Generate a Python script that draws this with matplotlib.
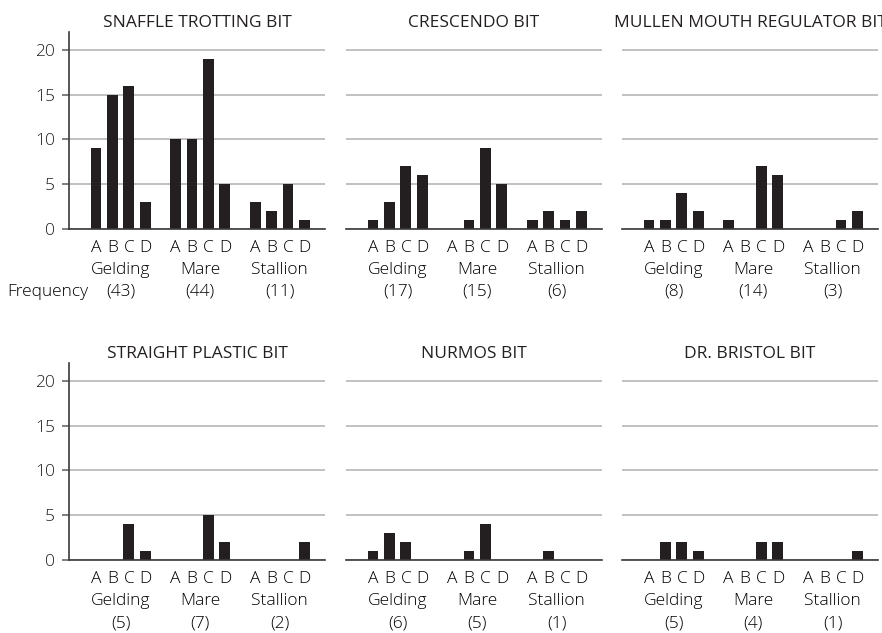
import numpy as np
import matplotlib.pyplot as plt

# bits in reading order, three per row
bits = ['SNAFFLE TROTTING BIT', 'CRESCENDO BIT', 'MULLEN MOUTH REGULATOR BIT',
        'STRAIGHT PLASTIC BIT', 'NURMOS BIT', 'DR. BRISTOL BIT']
groups = ['Gelding', 'Mare', 'Stallion']
letters = ['A', 'B', 'C', 'D']

# counts per bit: gelding, mare, stallion -> A, B, C, D
snaffle = [[9, 15, 16, 3], [10, 10, 19, 5], [3, 2, 5, 1]]
crescendo = [[1, 3, 7, 6], [0, 1, 9, 5], [1, 2, 1, 2]]
mullen = [[1, 1, 4, 2], [1, 0, 7, 6], [0, 0, 1, 2]]
straight = [[0, 0, 4, 1], [0, 0, 5, 2], [0, 0, 0, 2]]
nurmos = [[1, 3, 2, 0], [0, 1, 4, 0], [0, 1, 0, 0]]
bristol = [[0, 2, 2, 1], [0, 0, 2, 2], [0, 0, 0, 1]]
counts = [snaffle, crescendo, mullen, straight, nurmos, bristol]

# frequency totals printed under each group
totals = [[43, 44, 11], [17, 15, 6], [8, 14, 3],
          [5, 7, 2], [6, 5, 1], [5, 4, 1]]

plt.rcParams['font.family'] = ['Open Sans', 'DejaVu Sans']
plt.rcParams['font.weight'] = 'light'
FS = 12.5
W, H = 882, 633

fig = plt.figure(figsize=(W / 100, H / 100), dpi=100)

lefts = [69, 346, 622]
bases = [229, 560]
aw, ah = 256, 197
gstep = 4.85

for k in range(6):
    r, c = divmod(k, 3)
    ax = fig.add_axes([lefts[c] / W, (H - bases[r]) / H, aw / W, ah / H])
    ax.set_axisbelow(True)
    for g in range(3):
        x = g * gstep + np.arange(4)
        ax.bar(x, counts[k][g], width=0.66, color='#231f20')
        for xi, lab in zip(x, letters):
            ax.annotate(lab, (xi, 0), xycoords=('data', 'axes fraction'),
                        xytext=(0, -23), textcoords='offset pixels',
                        ha='center', va='baseline', fontsize=FS)
        mid = x.mean()
        ax.annotate(groups[g], (mid, 0), xycoords=('data', 'axes fraction'),
                    xytext=(0, -45), textcoords='offset pixels',
                    ha='center', va='baseline', fontsize=FS)
        ax.annotate('(%d)' % totals[k][g], (mid, 0),
                    xycoords=('data', 'axes fraction'),
                    xytext=(0, -67), textcoords='offset pixels',
                    ha='center', va='baseline', fontsize=FS)
    ax.set_xlim(-1.65, 13.95)
    ax.set_ylim(0, 22)
    ax.set_xticks([])
    ax.set_yticks([0, 5, 10, 15, 20])
    ax.yaxis.grid(True, color='#bcbcbc', lw=1.3)
    for s in ['top', 'right']:
        ax.spines[s].set_visible(False)
    ax.spines['bottom'].set_color('#3a3a3a')
    ax.spines['bottom'].set_linewidth(1.2)
    if c == 0:
        ax.spines['left'].set_color('#3a3a3a')
        ax.spines['left'].set_linewidth(1.2)
        ax.tick_params(axis='y', length=5, width=1.2, color='#6a6a6a',
                       pad=5, labelsize=FS, labelcolor='#231f20')
    else:
        ax.spines['left'].set_visible(False)
        ax.tick_params(axis='y', length=0, labelleft=False)
    ax.set_title(bits[k], fontsize=FS, pad=3.5, color='#231f20')

fig.text(7 / W, (H - 296) / H, 'Frequency', fontsize=FS,
         ha='left', va='baseline')

fig.savefig('out.png', dpi=100)
